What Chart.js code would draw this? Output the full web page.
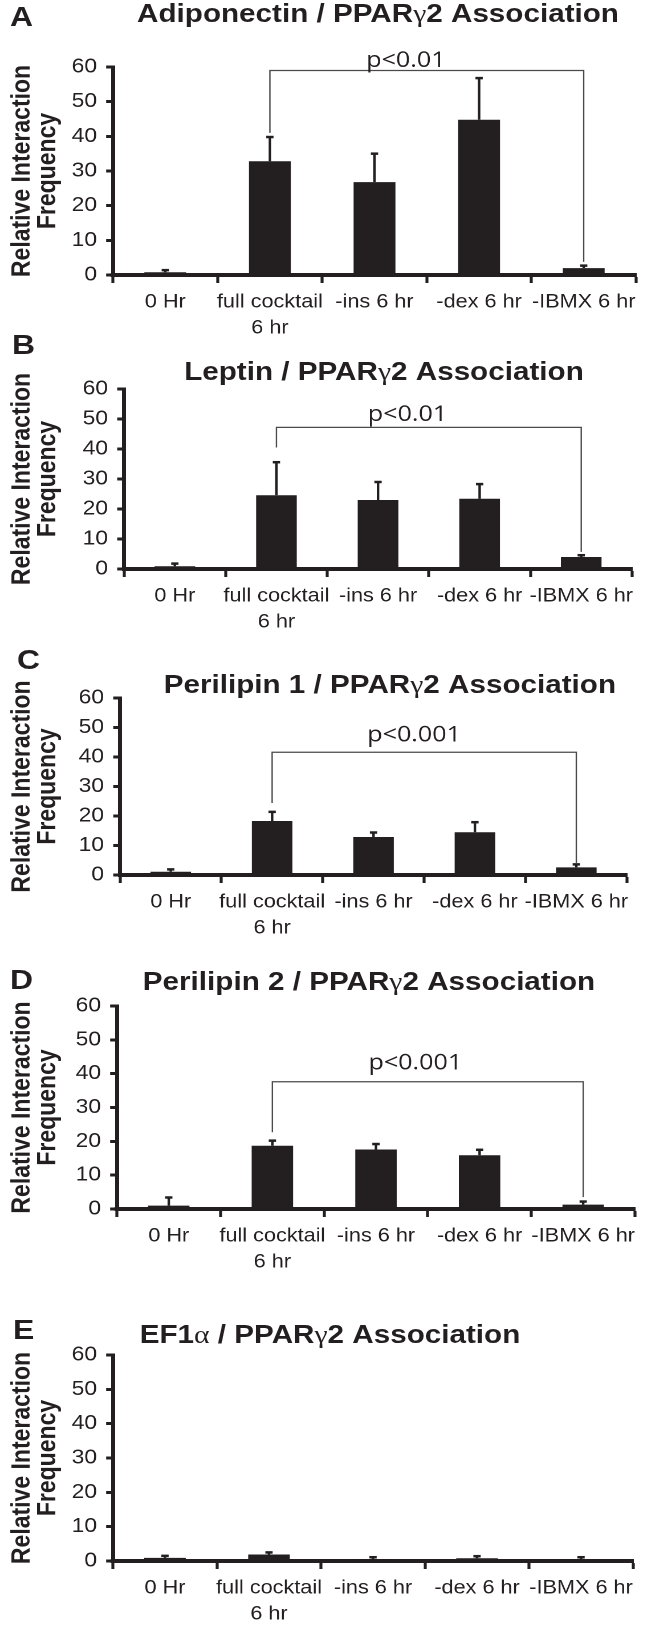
<!DOCTYPE html>
<html>
<head>
<meta charset="utf-8">
<script src="https://cdn.jsdelivr.net/npm/chart.js@4.4.1/dist/chart.umd.min.js"></script>
<style>
  html, body { margin: 0; background: #fff; }
  body { width: 652px; height: 1634px; position: relative; overflow: hidden; }
  /* the original figure is stretched horizontally, so draw narrow and widen */
  #fig { position: absolute; left: 0; top: 0; width: 572px; height: 1634px;
         transform: scaleX(1.14); transform-origin: 0 0;
         font-family: "Liberation Sans", Arial, sans-serif; color: #231f20; }
  .letter { position: absolute; font-size: 28px; font-weight: bold; line-height: 28px; white-space: nowrap; }
  .title { position: absolute; font-size: 26px; font-weight: bold; line-height: 26px; white-space: nowrap; transform: translateX(-50%); }
  .greek { font-family: "Liberation Serif", serif; font-weight: normal; }
  .panel { position: absolute; left: 0; width: 572px; }
</style>
</head>
<body>
<div id="fig">
  <div class="letter" style="left:8.8px;top:3px">A</div>
  <div class="title" style="left:331.6px;top:-0.3px">Adiponectin / PPAR<span class="greek">γ</span>2 Association</div>
  <div class="panel" style="top:37px;height:308px"><canvas id="chartA"></canvas></div>

  <div class="letter" style="left:10.5px;top:331.3px">B</div>
  <div class="title" style="left:336.8px;top:358px">Leptin / PPAR<span class="greek">γ</span>2 Association</div>
  <div class="panel" style="top:359px;height:280px"><canvas id="chartB"></canvas></div>

  <div class="letter" style="left:14.9px;top:646.3px">C</div>
  <div class="title" style="left:342px;top:671px">Perilipin 1 / PPAR<span class="greek">γ</span>2 Association</div>
  <div class="panel" style="top:668px;height:277px"><canvas id="chartC"></canvas></div>

  <div class="letter" style="left:8.8px;top:966.3px">D</div>
  <div class="title" style="left:323.7px;top:968px">Perilipin 2 / PPAR<span class="greek">γ</span>2 Association</div>
  <div class="panel" style="top:976px;height:303px"><canvas id="chartD"></canvas></div>

  <div class="letter" style="left:11.4px;top:1316.3px">E</div>
  <div class="title" style="left:289.5px;top:1321px">EF1<span class="greek">α</span> / PPAR<span class="greek">γ</span>2 Association</div>
  <div class="panel" style="top:1325px;height:306px"><canvas id="chartE"></canvas></div>
</div>

<script>
// ---- data ----
const categories = ["0 Hr", ["full cocktail", "6 hr"], "-ins 6 hr", "-dex 6 hr", "-IBMX 6 hr"];
const yTicks = [0, 10, 20, 30, 40, 50, 60];
const yTitle = ["Relative Interaction", "Frequency"];

const adipoMeans = [0.8, 32.8, 26.8, 44.8, 2.0];
const adipoErr   = [0.6, 7.0, 8.2, 12.0, 0.7];
const leptinMeans = [0.9, 24.6, 23.0, 23.4, 4.0];
const leptinErr   = [0.9, 11.0, 6.0, 4.9, 0.6];
const plin1Means = [1.1, 18.3, 12.9, 14.5, 2.6];
const plin1Err   = [0.8, 3.1, 1.5, 3.4, 1.0];
const plin2Means = [1.0, 18.7, 17.6, 15.9, 1.3];
const plin2Err   = [2.4, 1.5, 1.6, 1.6, 0.9];
const ef1Means = [0.9, 1.9, 0.4, 0.8, 0.4];
const ef1Err   = [0.6, 0.6, 0.7, 0.6, 0.7];

// significance brackets: category indices and y values
const pLabels = ["p<0.01", "p<0.01", "p<0.001", "p<0.001"];
const bracketTop = [59, 47.2, 41.6, 37.6];
const bracketLeftEnd = [41, 40.5, 24.4, 22.7];
const bracketRightEnd = [3.8, 5.7, 3.8, 3.5];
const pLabelAt = [2.3, 2.29, 2.4, 2.38];
const pLabelY = [60, 49.3, 45.2, 41.3];

// ---- look ----
const INK = "#231f20";
const FONT = "'Liberation Sans', Arial, sans-serif";
const PAD_TOP = 30;
const X_H = 70;
const WIDTH = 572;

const errorBars = {
  id: "errorBars",
  afterDatasetsDraw(chart, args, opts) {
    const ctx = chart.ctx;
    const ds = chart.data.datasets[0];
    const meta = chart.getDatasetMeta(0);
    const x = chart.scales.x, y = chart.scales.y;
    ctx.save();
    ctx.strokeStyle = INK;
    meta.data.forEach((bar, i) => {
      const top = y.getPixelForValue(ds.data[i] + ds.errors[i]);
      ctx.lineWidth = 2.2;
      ctx.beginPath();
      ctx.moveTo(bar.x, bar.y);
      ctx.lineTo(bar.x, top);
      ctx.stroke();
      ctx.lineWidth = 2.5;
      ctx.beginPath();
      ctx.moveTo(bar.x - 3.2, top);
      ctx.lineTo(bar.x + 3.2, top);
      ctx.stroke();
    });

    const k = opts.bracket;
    if (k != null) {
      const x1 = x.getPixelForValue(1), x2 = x.getPixelForValue(4);
      const yt = y.getPixelForValue(bracketTop[k]);
      ctx.strokeStyle = "#4a4a4a";
      ctx.lineWidth = 1.2;
      ctx.beginPath();
      ctx.moveTo(x1, y.getPixelForValue(bracketLeftEnd[k]));
      ctx.lineTo(x1, yt);
      ctx.lineTo(x2, yt);
      ctx.lineTo(x2, y.getPixelForValue(bracketRightEnd[k]));
      ctx.stroke();
      ctx.fillStyle = "#231f20";
      ctx.font = "22px 'Open Sans', sans-serif";
      ctx.textAlign = "center";
      ctx.textBaseline = "alphabetic";
      ctx.fillText(pLabels[k], x.getPixelForValue(pLabelAt[k]), y.getPixelForValue(pLabelY[k]));
    }
    ctx.restore();
  }
};

function makePanel(id, means, errs, bracket, left, right) {
  return new Chart(document.getElementById(id), {
    type: "bar",
    data: {
      labels: categories,
      datasets: [{
        data: means,
        errors: errs,
        backgroundColor: INK,
        barPercentage: 0.4,
        categoryPercentage: 1
      }]
    },
    options: {
      responsive: true,
      maintainAspectRatio: false,
      animation: false,
      devicePixelRatio: 2,
      layout: { padding: { top: PAD_TOP, left: 0, right: WIDTH - right, bottom: 0 } },
      plugins: {
        legend: { display: false },
        tooltip: { enabled: false },
        errorBars: { bracket: bracket }
      },
      scales: {
        x: {
          grid: { offset: true, drawOnChartArea: false, drawTicks: true,
                  tickLength: 8, tickWidth: 2.6, tickColor: INK },
          border: { display: true, color: INK, width: 4 },
          ticks: { color: INK, autoSkip: false, maxRotation: 0, minRotation: 0, padding: 6,
                   font: { family: FONT, size: 19, lineHeight: 1.38 } },
          afterFit(s) { s.height = X_H; s.paddingLeft = 0; s.paddingRight = 0; }
        },
        y: {
          min: 0, max: 60,
          afterBuildTicks(s) { s.ticks = yTicks.map(v => ({ value: v })); },
          grid: { drawOnChartArea: false, drawTicks: true,
                  tickLength: 6, tickWidth: 3, tickColor: INK },
          border: { display: true, color: INK, width: 3.5 },
          ticks: { color: INK, padding: 8, font: { family: FONT, size: 20 } },
          title: { display: true, text: yTitle, color: INK,
                   font: { family: FONT, size: 23, weight: "bold", lineHeight: 0.97 },
                   padding: { top: 8.5, bottom: 0 } },
          afterFit(s) { s.width = left; s.paddingTop = 0; s.paddingBottom = 0; }
        }
      }
    },
    plugins: [errorBars]
  });
}

makePanel("chartA", adipoMeans, adipoErr, 0, 99.1, 557.9);
makePanel("chartB", leptinMeans, leptinErr, 1, 108.8, 554.4);
makePanel("chartC", plin1Means, plin1Err, 2, 105.3, 550.0);
makePanel("chartD", plin2Means, plin2Err, 3, 102.6, 557.0);
makePanel("chartE", ef1Means, ef1Err, null, 99.1, 555.3);
</script>
</body>
</html>
